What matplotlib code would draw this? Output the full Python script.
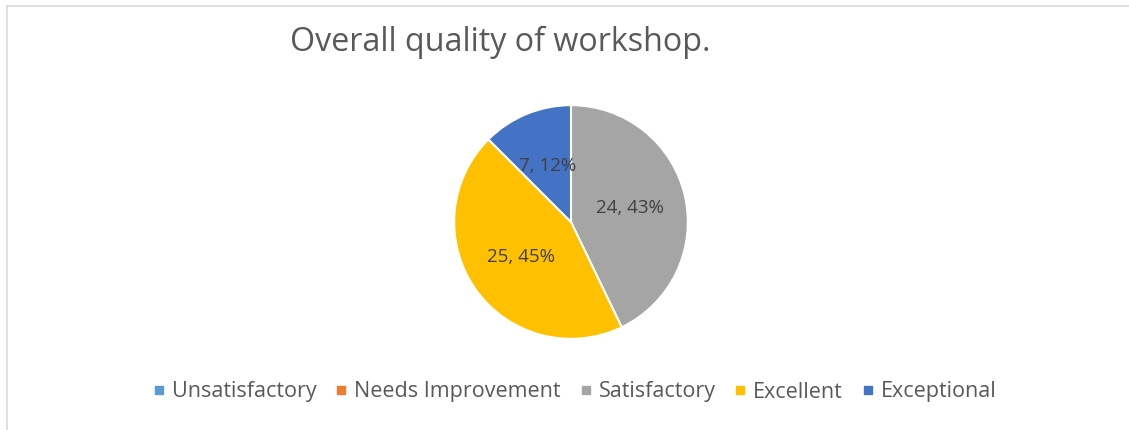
import numpy as np
import matplotlib.pyplot as plt
from matplotlib.lines import Line2D

categories = ['Unsatisfactory', 'Needs Improvement', 'Satisfactory', 'Excellent', 'Exceptional']
counts = [0, 0, 24, 25, 7]
colors = ['#5B9BD5', '#ED7D31', '#A5A5A5', '#FFC000', '#4472C4']
title = 'Overall quality of workshop.'

plt.rcParams['font.family'] = ['Open Sans', 'DejaVu Sans']

W, H = 1129, 430
fig = plt.figure(figsize=(W / 100, H / 100), dpi=100)

# thin frame along top and left like the screenshot
fig.add_artist(Line2D([7 / W, 1], [1 - 6 / H, 1 - 6 / H], color='#d9d9d9', lw=1.2))
fig.add_artist(Line2D([7 / W, 7 / W], [0, 1 - 6 / H], color='#d9d9d9', lw=1.2))

cx, cy, r = 571, 222, 118
ax = fig.add_axes([(cx - r) / W, (H - cy - r) / H, 2 * r / W, 2 * r / H])
wedges, _ = ax.pie(counts, colors=colors, startangle=90, counterclock=False,
                   wedgeprops=dict(edgecolor='white', linewidth=1.5))
ax.set_xlim(-1.01, 1.01)
ax.set_ylim(-1.01, 1.01)
ax.set_aspect('equal')

total = sum(counts)
for w, n in zip(wedges, counts):
    if n == 0:
        continue
    ang = np.deg2rad((w.theta1 + w.theta2) / 2)
    pct = int(np.floor(n / total * 100 + 0.5 - 1e-9))
    ax.text(0.52 * np.cos(ang), 0.52 * np.sin(ang), f'{n}, {pct}%',
            ha='center', va='center', fontsize=13.5, color='#404040')

fig.text(500 / W, 1 - 42 / H, title, ha='center', va='center',
         fontsize=23.2, color='#595959')

handles = [Line2D([], [], ls='', marker='s', markersize=5.5, color=c) for c in colors]
fig.legend(handles, categories, loc='center', bbox_to_anchor=(575 / W, 1 - 392 / H),
           ncol=5, frameon=False, fontsize=15.5, handlelength=0.5,
           handletextpad=0.35, columnspacing=0.9, labelcolor='#595959')

plt.savefig('out.png', dpi=100)
